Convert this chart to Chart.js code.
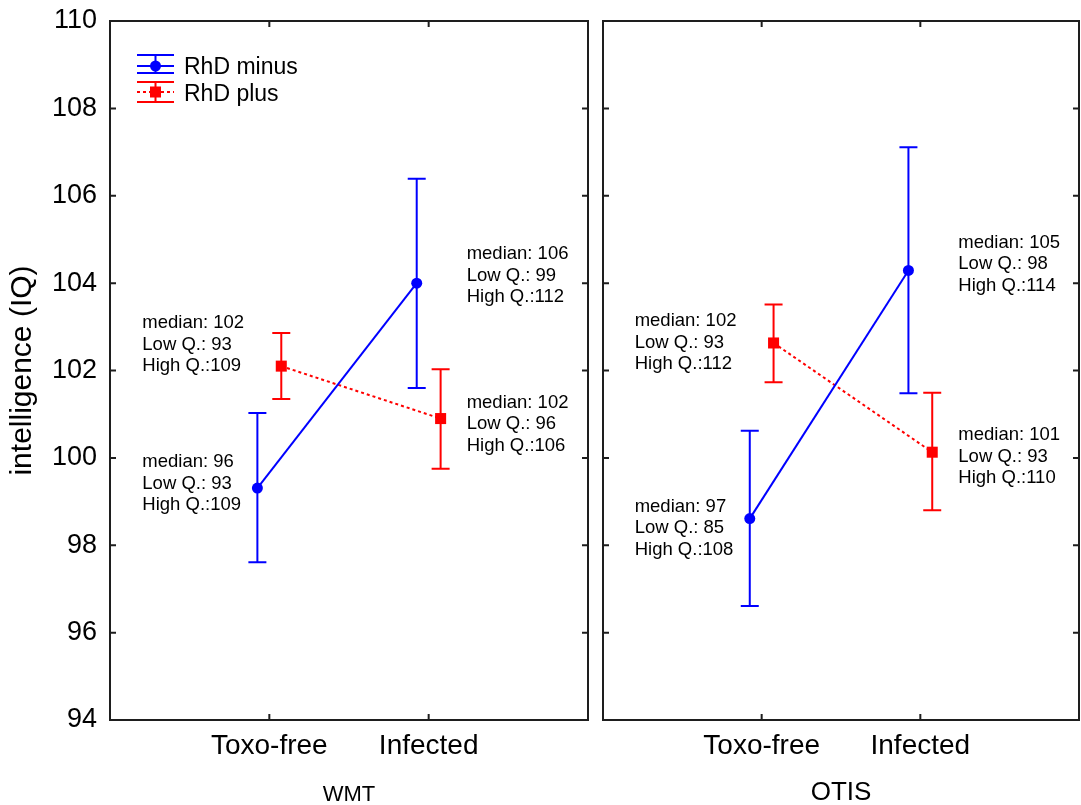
<!DOCTYPE html>
<html>
<head>
<meta charset="utf-8">
<script src="https://cdn.jsdelivr.net/npm/chart.js@4.4.1/dist/chart.umd.min.js"></script>
<style>
  body { margin: 0; background: #fff; overflow: hidden; }
  #wrap { position: relative; width: 1081px; height: 805px; }
  canvas { position: absolute; top: 0; }
</style>
</head>
<body>
<div id="wrap">
  <canvas id="wmt-chart" width="596" height="805" style="left:0"></canvas>
  <canvas id="otis-chart" width="491" height="805" style="left:590px"></canvas>
</div>
<script>
const groups = ["Toxo-free", "Infected"];
const seriesNames = ["RhD minus", "RhD plus"];
const yTicks = [94, 96, 98, 100, 102, 104, 106, 108, 110];

// WMT panel: mean and error bar ends
const wmtMinusMean = [99.31, 104.0];
const wmtMinusLow = [97.61, 101.60];
const wmtMinusHigh = [101.03, 106.39];
const wmtPlusMean = [102.10, 100.90];
const wmtPlusLow = [101.35, 99.75];
const wmtPlusHigh = [102.86, 102.03];

// OTIS panel
const otisMinusMean = [98.61, 104.29];
const otisMinusLow = [96.61, 101.48];
const otisMinusHigh = [100.62, 107.11];
const otisPlusMean = [102.63, 100.13];
const otisPlusLow = [101.73, 98.80];
const otisPlusHigh = [103.51, 101.49];

// annotation texts
const wmtMinusNotes = [["median: 96", "Low Q.: 93", "High Q.:109"], ["median: 106", "Low Q.: 99", "High Q.:112"]];
const wmtPlusNotes = [["median: 102", "Low Q.: 93", "High Q.:109"], ["median: 102", "Low Q.: 96", "High Q.:106"]];
const otisMinusNotes = [["median: 97", "Low Q.: 85", "High Q.:108"], ["median: 105", "Low Q.: 98", "High Q.:114"]];
const otisPlusNotes = [["median: 102", "Low Q.: 93", "High Q.:112"], ["median: 101", "Low Q.: 93", "High Q.:110"]];

const FONT = "'Liberation Sans', Arial, sans-serif";
const BLUE = "#0000ff", RED = "#ff0000", INK = "#1e1e1e";
const SHIFT = [-0.075, 0.075];

Chart.defaults.color = "#000";
Chart.defaults.font.family = FONT;

function points(values, s) {
    return values.map((v, i) => ({ x: i + 1 + SHIFT[s], y: v }));
}

// no automatic label overflow padding, the frame is placed by layout padding
function noPad(scale) {
    scale.paddingTop = 0;
    scale.paddingBottom = 0;
    scale.paddingLeft = 0;
    scale.paddingRight = 0;
}

const panelPlugin = {
    id: "panel",
    beforeDatasetsDraw(chart) {
        const ctx = chart.ctx, y = chart.scales.y;
        chart.data.datasets.forEach((ds, i) => {
            ctx.save();
            ctx.strokeStyle = ds.borderColor;
            ctx.lineWidth = 2;
            chart.getDatasetMeta(i).data.forEach((pt, j) => {
                const lo = y.getPixelForValue(ds.low[j]);
                const hi = y.getPixelForValue(ds.high[j]);
                ctx.beginPath();
                ctx.moveTo(pt.x, lo); ctx.lineTo(pt.x, hi);
                ctx.moveTo(pt.x - 9, lo); ctx.lineTo(pt.x + 9, lo);
                ctx.moveTo(pt.x - 9, hi); ctx.lineTo(pt.x + 9, hi);
                ctx.stroke();
            });
            ctx.restore();
        });
    },
    afterDraw(chart, args, opts) {
        const ctx = chart.ctx, a = chart.chartArea;
        const xs = chart.scales.x, ys = chart.scales.y;
        ctx.save();
        // frame + inward ticks
        ctx.strokeStyle = INK;
        ctx.lineWidth = 2;
        ctx.strokeRect(a.left, a.top, a.right - a.left, a.bottom - a.top);
        ctx.beginPath();
        yTicks.forEach(v => {
            const py = ys.getPixelForValue(v);
            ctx.moveTo(a.left, py); ctx.lineTo(a.left + 6, py);
            ctx.moveTo(a.right, py); ctx.lineTo(a.right - 6, py);
        });
        groups.forEach((g, i) => {
            const px = xs.getPixelForValue(i + 1);
            ctx.moveTo(px, a.bottom); ctx.lineTo(px, a.bottom - 6);
            ctx.moveTo(px, a.top); ctx.lineTo(px, a.top + 6);
        });
        ctx.stroke();

        // median / quartile notes
        ctx.fillStyle = "#000";
        ctx.font = "18.5px " + FONT;
        ctx.textBaseline = "middle";
        ctx.textAlign = "left";
        chart.data.datasets.forEach((ds, i) => {
            chart.getDatasetMeta(i).data.forEach((pt, j) => {
                const cx = xs.getPixelForValue(j + 1);
                const tx = j === 0 ? cx - 127 : cx + 38;
                const ty = pt.y + opts.offsets[i][j];
                ds.notes[j].forEach((line, k) => ctx.fillText(line, tx, ty + k * 21.5));
            });
        });

        // legend
        if (opts.legend) {
            const rows = [
                { c: BLUE, top: 55, mid: 66, bot: 73, ty: 67, dash: [], style: "circle" },
                { c: RED, top: 82, mid: 92, bot: 102, ty: 94, dash: [3, 3], style: "rect" }
            ];
            rows.forEach((r, i) => {
                ctx.strokeStyle = r.c;
                ctx.fillStyle = r.c;
                ctx.lineWidth = 2;
                ctx.setLineDash([]);
                ctx.beginPath();
                ctx.moveTo(137, r.top); ctx.lineTo(174, r.top);
                ctx.moveTo(137, r.bot); ctx.lineTo(174, r.bot);
                ctx.moveTo(155.5, r.top); ctx.lineTo(155.5, r.bot);
                ctx.stroke();
                ctx.setLineDash(r.dash);
                ctx.beginPath();
                ctx.moveTo(137, r.mid); ctx.lineTo(174, r.mid);
                ctx.stroke();
                ctx.setLineDash([]);
                if (r.style === "circle") {
                    ctx.beginPath();
                    ctx.arc(155.5, r.mid, 5.5, 0, Math.PI * 2);
                    ctx.fill();
                } else {
                    ctx.fillRect(150, r.mid - 5.5, 11, 11);
                }
                ctx.fillStyle = "#000";
                ctx.font = "23px " + FONT;
                ctx.fillText(seriesNames[i], 184, r.ty + 1);
            });
        }
        ctx.restore();
    }
};

function makeChart(id, title, titleSize, minus, plus, offsets, withAxis, padRight) {
    return new Chart(document.getElementById(id).getContext("2d"), {
        type: "line",
        data: {
            datasets: [{
                label: seriesNames[0],
                data: points(minus.mean, 0),
                low: minus.low, high: minus.high, notes: minus.notes,
                borderColor: BLUE,
                backgroundColor: BLUE,
                borderWidth: 2,
                pointStyle: "circle",
                pointRadius: 5.5,
                pointBorderWidth: 0,
            }, {
                label: seriesNames[1],
                data: points(plus.mean, 1),
                low: plus.low, high: plus.high, notes: plus.notes,
                borderColor: RED,
                backgroundColor: RED,
                borderWidth: 2,
                borderDash: [3, 3],
                pointStyle: "rect",
                pointRadius: 7.8,
                pointBorderWidth: 0,
            }],
        },
        options: {
            responsive: false,
            animation: false,
            devicePixelRatio: 1,
            layout: { autoPadding: false, padding: { top: 21, right: padRight, bottom: 0, left: 0 } },
            plugins: {
                legend: { display: false },
                tooltip: { enabled: false },
                panel: { offsets: offsets, legend: withAxis },
            },
            scales: {
                x: {
                    type: "linear",
                    min: 0,
                    max: 3,
                    grid: { display: false, drawTicks: false },
                    border: { display: false },
                    afterBuildTicks: (scale) => { scale.ticks = groups.map((g, i) => ({ value: i + 1 })); },
                    afterFit: (scale) => { scale.height = 85; noPad(scale); },
                    ticks: {
                        autoSkip: false,
                        maxRotation: 0,
                        padding: 9,
                        font: { size: 28, lineHeight: 1.2 },
                        callback: (v) => groups[v - 1],
                    },
                    title: {
                        display: true,
                        text: title,
                        font: { size: titleSize, lineHeight: 1 },
                        padding: { top: 0, bottom: -1 },
                    },
                },
                y: {
                    min: 94,
                    max: 110,
                    grid: { display: false, drawTicks: false },
                    border: { display: false },
                    afterFit: (scale) => { scale.width = withAxis ? 110 : 13; noPad(scale); },
                    ticks: {
                        display: withAxis,
                        stepSize: 2,
                        padding: 13,
                        font: { size: 27 },
                    },
                    title: {
                        display: withAxis,
                        text: "intelligence (IQ)",
                        font: { size: 30, lineHeight: 1 },
                        padding: { top: 8, bottom: 0 },
                    },
                },
            },
        },
        plugins: [panelPlugin],
    });
}

makeChart("wmt-chart", "WMT", 22,
    { mean: wmtMinusMean, low: wmtMinusLow, high: wmtMinusHigh, notes: wmtMinusNotes },
    { mean: wmtPlusMean, low: wmtPlusLow, high: wmtPlusHigh, notes: wmtPlusNotes },
    [[-26, -29], [-43, -16]], true, 8);

makeChart("otis-chart", "OTIS", 26,
    { mean: otisMinusMean, low: otisMinusLow, high: otisMinusHigh, notes: otisMinusNotes },
    { mean: otisPlusMean, low: otisPlusLow, high: otisPlusHigh, notes: otisPlusNotes },
    [[-12, -28], [-22, -17]], false, 2);
</script>
</body>
</html>
